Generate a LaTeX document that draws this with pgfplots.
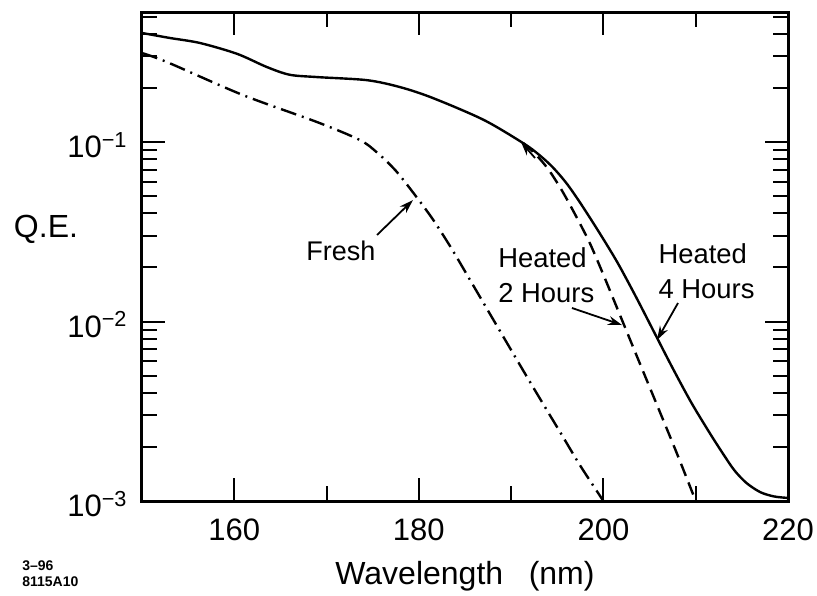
\documentclass[border=0pt]{standalone}
\usepackage{fontspec}
\setmainfont{Liberation Sans}
\usepackage{pgfplots}
\pgfplotsset{compat=1.18}
\usetikzlibrary{arrows.meta}

\begin{document}
\begin{tikzpicture}
\useasboundingbox (-71pt,-47pt) rectangle (337.5pt,250.5pt);
\begin{axis}[
  at={(0,0)}, anchor=south west,
  scale only axis, width=323pt, height=244.5pt,
  xmin=150, xmax=220, ymode=log, ymin=1e-3, ymax=0.53,
  xtick={160,180,200,220}, xticklabels={160,180,200,220},
  minor xtick={170,190,210},
  ytick={1e-3,1e-2,1e-1},
  yticklabels={10\textsuperscript{−3},10\textsuperscript{−2},10\textsuperscript{−1}},
  minor ytick={2e-3,3e-3,4e-3,5e-3,6e-3,7e-3,8e-3,9e-3,2e-2,3e-2,4e-2,5e-2,6e-2,7e-2,8e-2,9e-2,0.2,0.3,0.4,0.5},
  tick align=inside, major tick length=11.5pt, minor tick length=7.5pt,
  every tick/.style={black, line width=1pt},
  axis line style={line width=1.5pt},
  xticklabel style={font=\fontsize{15.5}{18}\selectfont, yshift=-5.5pt},
  yticklabel style={font=\fontsize{15.5}{17}\selectfont, xshift=-3.7pt, yshift=-1.5pt},
  xlabel={Wavelength\hspace{0.8em}(nm)},
  xlabel style={at={(axis description cs:0.5,0)}, anchor=base, yshift=-41.5pt, font=\fontsize{16}{19}\selectfont},
  clip mode=individual,
]
% Heated 4 hours (solid)
\addplot[black, line width=1.2pt, smooth, tension=0.5] coordinates {
(150,0.405) (153,0.380) (156.3,0.356) (160.3,0.310) (163.5,0.262) (166,0.237)
(169,0.230) (174.4,0.221) (178,0.202) (181.5,0.176) (187,0.133) (191.3,0.0986)
(193,0.0851) (194.5,0.0724) (196,0.0589) (197.5,0.0457) (199.5,0.0316)
(201.5,0.0214) (203.5,0.0138) (205.5,0.00871) (207.5,0.00550) (209.5,0.00355)
(211.5,0.00240) (213,0.00182) (214.2,0.00148) (215.5,0.00126) (217,0.00112)
(218.5,0.00106) (220,0.00104)
};
% Heated 2 hours (dashed)
\addplot[black, line width=1.2pt, smooth, tension=0.5, dash pattern=on 6.5pt off 3.5pt] coordinates {
(191.3,0.0986) (192.5,0.0871) (194,0.0708) (195.5,0.0537) (197,0.0389)
(198.5,0.0275) (200,0.0182) (202,0.01023) (204,0.00575) (206,0.00324)
(208,0.00182) (210,0.001)
};
% Fresh (dash-dot)
\addplot[black, line width=1.2pt, smooth, tension=0.5, dash pattern=on 8pt off 3pt on 1pt off 3pt] coordinates {
(150,0.313) (152.7,0.279) (160.9,0.183) (169.0,0.129) (173.6,0.1026)
(175.5,0.0871) (177.5,0.0692) (179.5,0.0513) (181.5,0.0372) (183.5,0.0257)
(185.5,0.0172) (187.5,0.01148) (189.5,0.00767) (191.5,0.00513) (193.5,0.00345)
(195.5,0.00233) (197.5,0.00157) (200,0.001)
};
% labels
\node[font=\fontsize{16}{18}\selectfont, anchor=center] at (rel axis cs:-0.1486,0.556) {Q.E.};
\node[font=\fontsize{13.5}{16}\selectfont, anchor=center] at (rel axis cs:0.308,0.511) {Fresh};
\node[font=\fontsize{13.7}{17.5}\selectfont, anchor=north west, align=left, inner sep=0pt] at (rel axis cs:0.551,0.519) {Heated\\2 Hours};
\node[font=\fontsize{13.7}{17.5}\selectfont, anchor=north west, align=left, inner sep=0pt] at (rel axis cs:0.799,0.528) {Heated\\4 Hours};
\node[font=\fontsize{7}{8}\selectfont\bfseries, anchor=north west, align=left, inner sep=0pt] at (rel axis cs:-0.1858,-0.1207) {3–96\\8115A10};
% arrows
\draw[-{Stealth[length=7pt,width=4.5pt]}, line width=0.9pt] (rel axis cs:0.3638,0.544) -- (rel axis cs:0.4195,0.6155);
\draw[-{Stealth[length=7pt,width=4.5pt]}, line width=0.9pt] (rel axis cs:0.6656,0.3947) -- (rel axis cs:0.7430,0.3599);
\draw[-{Stealth[length=7pt,width=4.5pt]}, line width=0.9pt] (rel axis cs:0.8297,0.4049) -- (rel axis cs:0.7972,0.3292);
\draw[-{Stealth[length=7pt,width=4.5pt]}, line width=0.9pt] (rel axis cs:0.6084,0.7014) -- (rel axis cs:0.5867,0.7342);
\end{axis}
\end{tikzpicture}
\end{document}
